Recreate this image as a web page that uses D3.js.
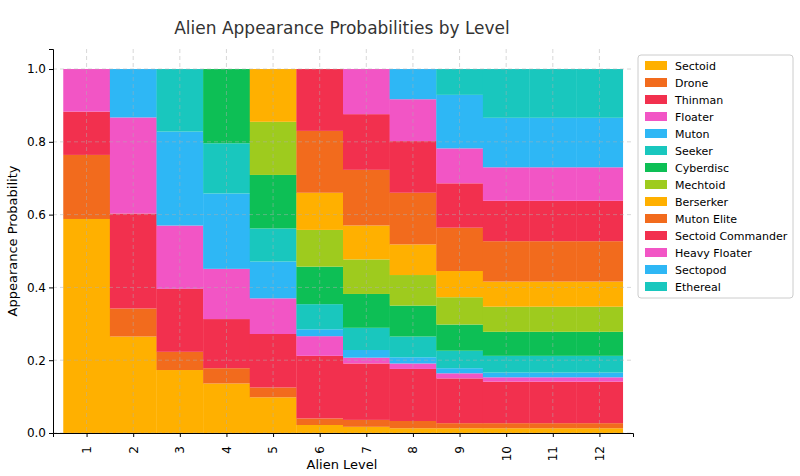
<!DOCTYPE html>
<html><head><meta charset="utf-8"><script src="https://d3js.org/d3.v7.min.js"></script>
<style>body{margin:0;background:#fff}</style></head><body><svg id="c" width="800" height="476"></svg>
<script>
const levels=[1,2,3,4,5,6,7,8,9,10,11,12];
const seriesNames=["Sectoid","Drone","Thinman","Floater","Muton","Seeker","Cyberdisc","Mechtoid","Berserker","Muton Elite","Sectoid Commander","Heavy Floater","Sectopod","Ethereal"];
const sectoid=[.588,.265,.173,.136,.098,.022,.017,.013,.013,.013,.013,.013];
const drone=[.176,.077,.050,.042,.027,.018,.019,.020,.014,.014,.014,.014];
const thinman=[.119,.261,.173,.135,.147,.172,.155,.143,.123,.114,.114,.114];
const floater=[.117,.264,.174,.138,.098,.054,.016,.015,.014,.012,.012,.012];
const muton=[0,.133,.258,.207,.101,.019,.021,.017,.014,.013,.013,.013];
const seeker=[0,0,.172,.138,.091,.069,.061,.057,.048,.046,.046,.046];
const cyberdisc=[0,0,0,.204,.147,.103,.093,.085,.072,.066,.066,.066];
const mechtoid=[0,0,0,0,.146,.101,.095,.084,.075,.069,.069,.069];
const berserker=[0,0,0,0,.145,.102,.093,.084,.072,.069,.069,.069];
const mutonElite=[0,0,0,0,0,.170,.153,.142,.119,.111,.111,.111];
const sectoidCommander=[0,0,0,0,0,.170,.153,.142,.122,.111,.111,.111];
const heavyFloater=[0,0,0,0,0,0,.124,.115,.096,.092,.092,.092];
const sectopod=[0,0,0,0,0,0,0,.083,.147,.136,.136,.136];
const ethereal=[0,0,0,0,0,0,0,0,.071,.134,.134,.134];
const yTicks=[0,0.2,0.4,0.6,0.8,1.0];
const vals=[sectoid,drone,thinman,floater,muton,seeker,cyberdisc,mechtoid,berserker,mutonElite,sectoidCommander,heavyFloater,sectopod,ethereal];
const palette=["#FFB000","#F26B1D","#F2304E","#F255C5","#2EB7F5","#19C7BE","#0DBF55","#9ECB1E"];
const colors=seriesNames.map((d,i)=>palette[i%7===7?7:(i<8?i:i-8)]);
const svg=d3.select("#c");
const x=d3.scaleLinear().domain([0.28,12.72]).range([53,633]);
const y=d3.scaleLinear().domain([0,1.055]).range([433,49]);
const rows=levels.map((l,i)=>{const o={level:l};seriesNames.forEach((s,j)=>o[s]=vals[j][i]);return o;});
const stack=d3.stack().keys(seriesNames)(rows);
svg.append("g").selectAll("g").data(stack).join("g").attr("fill",(d,i)=>colors[i])
 .selectAll("rect").data(d=>d).join("rect")
 .attr("x",d=>x(d.data.level-0.5)).attr("width",d=>x(d.data.level+0.5)-x(d.data.level-0.5)+0.3)
 .attr("y",d=>y(d[1])).attr("height",d=>Math.max(0,y(d[0])-y(d[1])));
const g=svg.append("g").attr("stroke","#b0b0b0").attr("stroke-dasharray","4,3").attr("stroke-width",0.8).attr("opacity",0.6);
levels.forEach(l=>g.append("line").attr("x1",x(l)).attr("x2",x(l)).attr("y1",49).attr("y2",433));
yTicks.forEach(t=>g.append("line").attr("x1",53).attr("x2",633).attr("y1",y(t)).attr("y2",y(t)));
const ax=svg.append("g").attr("transform","translate(0,433)").call(d3.axisBottom(x).tickValues(levels).tickSize(4).tickPadding(3).tickFormat(d3.format("d")));
ax.selectAll("text").attr("transform","rotate(-90)").attr("text-anchor","end").attr("dx","-0.5em").attr("dy","-0.15em").attr("x",0).attr("y",0).attr("transform","translate(0,7) rotate(-90)").attr("dy","0.32em");
const ay=svg.append("g").attr("transform","translate(53,0)").call(d3.axisLeft(y).tickValues(yTicks).tickSize(4).tickFormat(d3.format(".1f")));
[ax,ay].forEach(a=>{a.select(".domain").attr("stroke","#000");a.selectAll("text").attr("font-family","DejaVu Sans").attr("font-size",12).attr("fill","#000");});
svg.append("text").attr("x",342).attr("y",34).attr("text-anchor","middle").attr("font-family","DejaVu Sans").attr("font-size",17).attr("fill","#333").text("Alien Appearance Probabilities by Level");
svg.append("text").attr("x",342).attr("y",469).attr("text-anchor","middle").attr("font-family","DejaVu Sans").attr("font-size",13).text("Alien Level");
svg.append("text").attr("transform","translate(17,241) rotate(-90)").attr("text-anchor","middle").attr("font-family","DejaVu Sans").attr("font-size",13).text("Appearance Probability");
const lg=svg.append("g");
lg.append("rect").attr("x",638).attr("y",55).attr("width",155).attr("height",243).attr("rx",3).attr("fill","#fff").attr("stroke","#ccc");
seriesNames.forEach((s,i)=>{const yy=66+i*17;
 lg.append("rect").attr("x",645).attr("y",yy-5).attr("width",22).attr("height",9).attr("fill",colors[i]);
 lg.append("text").attr("x",675).attr("y",yy+4).attr("font-family","DejaVu Sans").attr("font-size",11).text(s);});
</script></body></html>
